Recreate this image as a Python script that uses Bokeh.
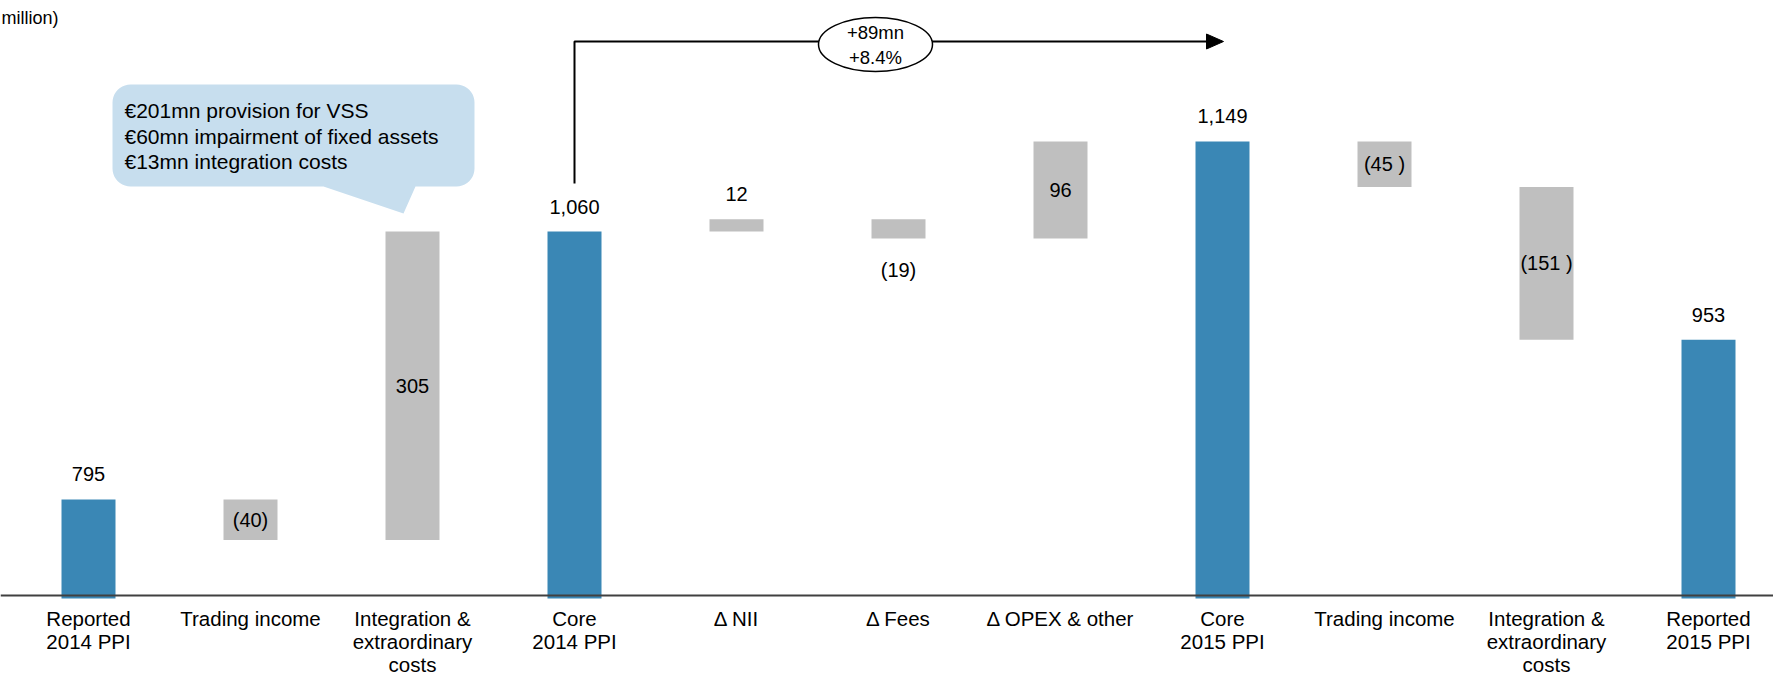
import math
from bokeh.plotting import figure
from bokeh.models import Range1d, Span
from bokeh.embed import file_html
from bokeh.resources import INLINE
from bokeh.core.properties import value

# ---------------- data ----------------
categories = ["Reported\n2014 PPI", "Trading income", "Integration &\nextraordinary\ncosts",
              "Core\n2014 PPI", "Δ NII", "Δ Fees", "Δ OPEX & other", "Core\n2015 PPI",
              "Trading income", "Integration &\nextraordinary\ncosts", "Reported\n2015 PPI"]
bar_kind = ["total", "delta", "delta", "total", "delta", "delta", "delta", "total",
            "delta", "delta", "total"]
amounts = [795, -40, 305, 1060, 12, -19, 96, 1149, -45, -151, 953]
value_labels = ["795", "(40)", "305", "1,060", "12", "(19)", "96", "1,149", "(45 )", "(151 )", "953"]
label_place = ["above", "inside", "inside", "above", "above", "below", "inside", "above",
               "inside", "inside", "above"]
callout_lines = ["€201mn provision for VSS", "€60mn impairment of fixed assets",
                 "€13mn integration costs"]
growth_lines = ["+89mn", "+8.4%"]
unit_note = "million)"

# ---------------- layout ----------------
W, H = 1773, 674
STEP_PX = 162.0            # pixels per category
FIRST_PX = 88.0            # centre of first category (px)
BASE_PX = 598.0            # px where bars end
Y_PER_PX = 0.98883
Y_FLOOR = 697.1
Y_AXIS = 700.0
x0 = -FIRST_PX / STEP_PX
x1 = x0 + W / STEP_PX
y1 = Y_FLOOR + BASE_PX * Y_PER_PX
y0 = y1 - H * Y_PER_PX

def fx(px):
    return x0 + px / STEP_PX

def fy(py):
    return y1 - py * Y_PER_PX

FONT = value("Liberation Sans")
BLUE = "#3A87B5"
GREY = "#BFBFBF"

p = figure(width=W, height=H, x_range=Range1d(x0, x1), y_range=Range1d(y0, y1),
           output_backend="svg", toolbar_location=None, min_border=0,
           x_axis_location=None, y_axis_location=None)
p.grid.visible = False
p.outline_line_color = None
p.background_fill_color = "white"
p.border_fill_color = "white"

# ---------------- waterfall ----------------
xs, bottoms, tops, colors = [], [], [], []
running = 0
for i, (k, a) in enumerate(zip(bar_kind, amounts)):
    if k == "total":
        b, t = Y_FLOOR, a
        running = a
    else:
        start, end = running, running + a
        b, t = min(start, end), max(start, end)
        running = end
    xs.append(i)
    bottoms.append(b)
    tops.append(t)
    colors.append(BLUE if k == "total" else GREY)

p.vbar(x=xs, width=54 / STEP_PX, bottom=bottoms, top=tops, fill_color=colors, line_color=None)

p.add_layout(Span(location=Y_AXIS, dimension="width", line_color="#404040", line_width=2))

# value labels
lx, ly = [], []
for i, place in enumerate(label_place):
    if place == "above":
        y = tops[i] + 25 * Y_PER_PX
    elif place == "below":
        y = bottoms[i] - 31 * Y_PER_PX
    else:
        y = (tops[i] + bottoms[i]) / 2
    lx.append(i)
    ly.append(y)
p.text(x=lx, y=ly, text=value_labels, text_align="center", text_baseline="middle",
       text_font=FONT, text_font_size="20px", text_color="#000000")

# category labels
p.text(x=list(range(len(categories))), y=[fy(606)] * len(categories), text=categories,
       text_align="center", text_baseline="top", text_font=FONT, text_font_size="20.5px",
       text_line_height=1.0, text_color="#000000")

# ---------------- growth bracket ----------------
core_a, core_b = 3, 7
head_len = 16
p.line(x=[core_a, core_a, core_b - head_len / STEP_PX], y=[fy(183), fy(41), fy(41)],
       line_color="black", line_width=2)
p.patch(x=[core_b + 1 / STEP_PX, core_b - head_len / STEP_PX, core_b - head_len / STEP_PX],
        y=[fy(41), fy(33.5), fy(48.5)], fill_color="black", line_color="black")
p.ellipse(x=[fx(875)], y=[fy(44)], width=114 / STEP_PX, height=54 * Y_PER_PX,
          fill_color="white", line_color="black", line_width=1.5)
p.text(x=[fx(875)] * 2, y=[fy(32), fy(57)], text=growth_lines, text_align="center",
       text_baseline="middle", text_font=FONT, text_font_size="18.5px", text_color="#000000")

# ---------------- callout ----------------
L, R, T, B, r = 112, 474, 84, 186, 18

def arc(cx, cy, a0, a1, n=10):
    pts = []
    for j in range(n + 1):
        a = math.radians(a0 + (a1 - a0) * j / n)
        pts.append((cx + r * math.cos(a), cy + r * math.sin(a)))
    return pts

path = []
path += arc(R - r, T + r, -90, 0)
path += arc(R - r, B - r, 0, 90)
path += [(415, B), (403, 213), (323, B)]
path += arc(L + r, B - r, 90, 180)
path += arc(L + r, T + r, 180, 270)
p.patch(x=[fx(a) for a, _ in path], y=[fy(b) for _, b in path],
        fill_color="#C7DEEE", line_color=None)
p.text(x=[fx(124)] * 3, y=[fy(110), fy(136), fy(161)], text=callout_lines,
       text_align="left", text_baseline="middle", text_font=FONT, text_font_size="21px",
       text_color="#000000")

# unit note
p.text(x=[fx(1)], y=[fy(17)], text=[unit_note], text_align="left", text_baseline="middle",
       text_font=FONT, text_font_size="18px", text_color="#000000")

open("out.html", "w").write(file_html(p, INLINE, "PPI bridge"))
